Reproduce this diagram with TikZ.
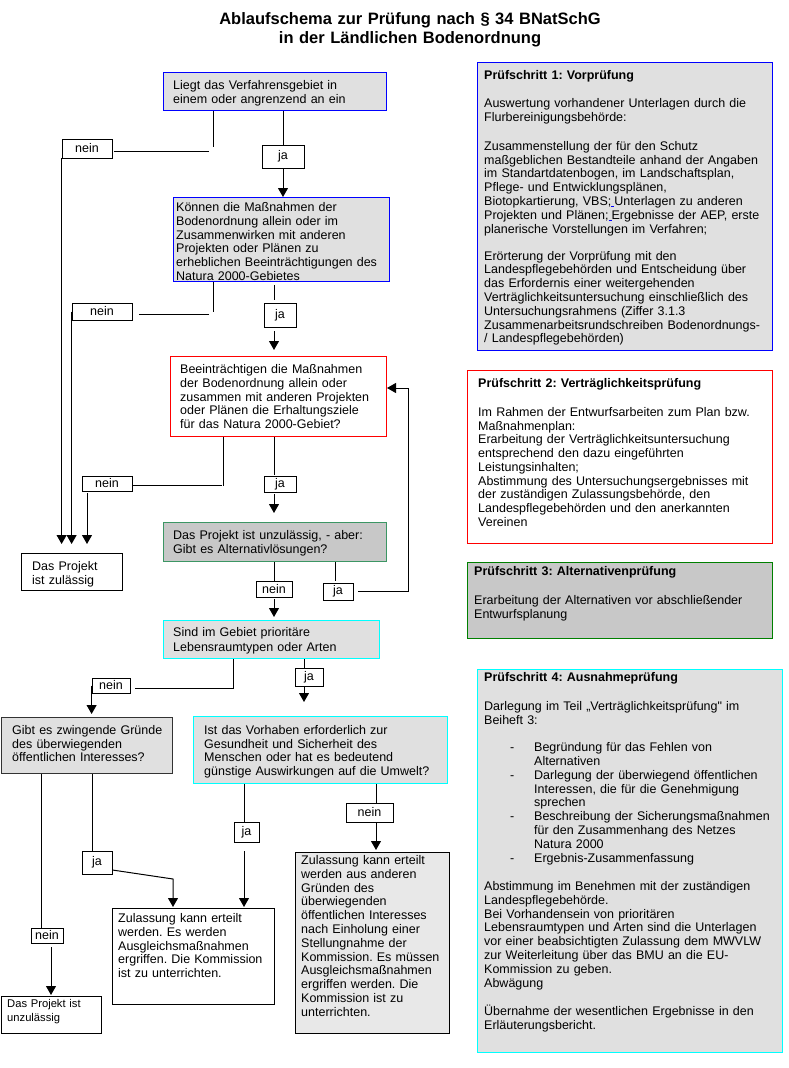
\documentclass[tikz,border=0pt]{standalone}
\usepackage{fontspec}
\setmainfont{Liberation Sans}
\usetikzlibrary{arrows.meta,calc}
\definecolor{boxgray}{RGB}{224,224,224}
\definecolor{midgray}{RGB}{200,200,200}
\definecolor{palegray}{RGB}{232,232,232}
\definecolor{bblue}{RGB}{0,0,255}
\definecolor{bred}{RGB}{255,0,0}
\definecolor{bcyan}{RGB}{0,255,255}
\definecolor{bgreen}{RGB}{60,150,100}
\definecolor{dgreen}{RGB}{0,128,0}
\newcommand\bluesp{\hbox{\color{blue}\rule[-1.5pt]{3pt}{0.6pt}}}
\newcommand\bulitem[1]{\makebox[50pt][l]{\hspace*{26pt}-}#1}
\newcommand\bulcont[1]{\hspace*{50pt}#1}
\frenchspacing
\begin{document}
\begin{tikzpicture}[x=1pt,y=-1pt,
  box/.style={draw,line width=1pt,anchor=north west,inner sep=0pt},
  lbl/.style={draw,line width=0.8pt,inner sep=0pt,font=\fontsize{12.5}{14}\selectfont},
  txt/.style={anchor=base west,inner sep=0pt,align=left,text width=300pt,font=\fontsize{12.5}{#1}\selectfont\frenchspacing},
  txt/.default=13.8,
  ln/.style={line width=1pt},
  arr/.style={line width=1pt,-{Triangle[width=10pt,length=9pt]}}
]
\useasboundingbox (0,0) rectangle (789,1068);

% title
\node[anchor=base,align=center,text width=500pt,inner sep=0pt,font=\fontsize{16.5}{19}\selectfont\bfseries] (title) at (410,24.3)
  {Ablaufschema zur Prüfung nach § 34 BNatSchG\\in der Ländlichen Bodenordnung};

% flow boxes
\node[box,fill=boxgray,draw=bblue,minimum width=223pt,minimum height=38pt] (A) at (163,72) {};
\node[txt=14] (At) at (173,89.5) {Liegt das Verfahrensgebiet in\\einem oder angrenzend an ein};

\node[box,fill=boxgray,draw=bblue,minimum width=216pt,minimum height=84pt] (B) at (173,197) {};
\node[txt] (Bt) at (176,211.5) {Können die Maßnahmen der\\Bodenordnung allein oder im\\Zusammenwirken mit anderen\\Projekten oder Plänen zu\\erheblichen Beeinträchtigungen des\\Natura 2000-Gebietes};

\node[box,fill=white,draw=bred,minimum width=216pt,minimum height=80pt] (C) at (170,356) {};
\node[txt] (Ct) at (180,373.5) {Beeinträchtigen die Maßnahmen\\der Bodenordnung allein oder\\zusammen mit anderen Projekten\\oder Plänen die Erhaltungsziele\\für das Natura 2000-Gebiet?};

\node[box,fill=midgray,draw=bgreen,minimum width=223pt,minimum height=39pt] (D) at (163,522) {};
\node[txt=14] (Dt) at (173,539.5) {Das Projekt ist unzulässig, - aber:\\Gibt es Alternativlösungen?};

\node[box,fill=white,draw=black,minimum width=101pt,minimum height=37pt] (E) at (21,553) {};
\node[txt=14] (Et) at (32,570.5) {Das Projekt\\ist zulässig};

\node[box,fill=boxgray,draw=bcyan,minimum width=216pt,minimum height=38pt] (F) at (163,620) {};
\node[txt=14.5] (Ft) at (173,636.5) {Sind im Gebiet prioritäre\\Lebensraumtypen oder Arten};

\node[box,fill=boxgray,draw=black!80,minimum width=171pt,minimum height=56pt] (G) at (1,717) {};
\node[txt=13.5] (Gt) at (12,734.5) {Gibt es zwingende Gründe\\des überwiegenden\\öffentlichen Interesses?};

\node[box,fill=boxgray,draw=bcyan,minimum width=254pt,minimum height=67pt] (H) at (193,716) {};
\node[txt=13.7] (Ht) at (204,734.5) {Ist das Vorhaben erforderlich zur\\Gesundheit und Sicherheit des\\Menschen oder hat es bedeutend\\günstige Auswirkungen auf die Umwelt?};

\node[box,fill=white,draw=black,minimum width=100.5pt,minimum height=37pt] (I) at (0.5,996) {};
\node[anchor=base west,inner sep=0pt,align=left,text width=100pt,font=\fontsize{11.2}{13.5}\selectfont] (It) at (7,1007.5) {Das Projekt ist\\unzulässig};

\node[box,fill=white,draw=black,minimum width=162pt,minimum height=96pt] (J) at (112,908) {};
\node[txt] (Jt) at (118,922.5) {Zulassung kann erteilt\\werden. Es werden\\Ausgleichsmaßnahmen\\ergriffen. Die Kommission\\ist zu unterrichten.};

\node[box,fill=palegray,draw=black,minimum width=154pt,minimum height=181pt] (K) at (295,852) {};
\node[txt] (Kt) at (301,864.5) {Zulassung kann erteilt\\werden aus anderen\\Gründen des\\überwiegenden\\öffentlichen Interesses\\nach Einholung einer\\Stellungnahme der\\Kommission. Es müssen\\Ausgleichsmaßnahmen\\ergriffen werden. Die\\Kommission ist zu\\unterrichten.};

% right column
\node[box,fill=boxgray,draw=bblue,minimum width=295pt,minimum height=288pt] (P1) at (477,62) {};
\node[txt] (P1t) at (484,79.5) {\textbf{Prüfschritt 1: Vorprüfung}\\[14.2pt]
Auswertung vorhandener Unterlagen durch die\\Flurbereinigungsbehörde:\\[15.2pt]
Zusammenstellung der für den Schutz\\maßgeblichen Bestandteile anhand der Angaben\\im Standartdatenbogen, im Landschaftsplan,\\Pflege- und Entwicklungsplänen,\\Biotopkartierung, VBS;\bluesp Unterlagen zu anderen\\Projekten und Plänen;\bluesp Ergebnisse der AEP, erste\\planerische Vorstellungen im Verfahren;\\[13.2pt]
Erörterung der Vorprüfung mit den\\Landespflegebehörden und Entscheidung über\\das Erfordernis einer weitergehenden\\Verträglichkeitsuntersuchung einschließlich des\\Untersuchungsrahmens (Ziffer 3.1.3\\Zusammenarbeitsrundschreiben Bodenordnungs-\\/ Landespflegebehörden)};

\node[box,fill=white,draw=bred,minimum width=305pt,minimum height=173pt] (P2) at (467,370) {};
\node[txt=13.75] (P2t) at (478,387.5) {\textbf{Prüfschritt 2: Verträglichkeitsprüfung}\\[15pt]
Im Rahmen der Entwurfsarbeiten zum Plan bzw.\\Maßnahmenplan:\\Erarbeitung der Verträglichkeitsuntersuchung\\entsprechend den dazu eingeführten\\Leistungsinhalten;\\Abstimmung des Untersuchungsergebnisses mit\\der zuständigen Zulassungsbehörde, den\\Landespflegebehörden und den anerkannten\\Vereinen};

\node[box,fill=midgray,draw=dgreen,minimum width=305pt,minimum height=76pt] (P3) at (467,562) {};
\node[txt] (P3t) at (474,575.5) {\textbf{Prüfschritt 3: Alternativenprüfung}\\[15.2pt]
Erarbeitung der Alternativen vor abschließender\\Entwurfsplanung};

\node[box,fill=boxgray,draw=bcyan,minimum width=305pt,minimum height=383pt] (P4) at (477,669) {};
\node[txt=13.85] (P4t) at (484,681.5) {\textbf{Prüfschritt 4: Ausnahmeprüfung}\\[15.2pt]
Darlegung im Teil „Verträglichkeitsprüfung\textquotedbl\ im\\Beiheft 3:\\[13.2pt]
\bulitem{Begründung für das Fehlen von}\\\bulcont{Alternativen}\\
\bulitem{Darlegung der überwiegend öffentlichen}\\\bulcont{Interessen, die für die Genehmigung}\\\bulcont{sprechen}\\
\bulitem{Beschreibung der Sicherungsmaßnahmen}\\\bulcont{für den Zusammenhang des Netzes}\\\bulcont{Natura 2000}\\
\bulitem{Ergebnis-Zusammenfassung}\\[14.2pt]
Abstimmung im Benehmen mit der zuständigen\\Landespflegebehörde.\\Bei Vorhandensein von prioritären\\Lebensraumtypen und Arten sind die Unterlagen\\vor einer beabsichtigten Zulassung dem MWVLW\\zur Weiterleitung über das BMU an die EU-\\Kommission zu geben.\\Abwägung\\[14.2pt]
Übernahme der wesentlichen Ergebnisse in den\\Erläuterungsbericht.};

% label boxes
\node[lbl,minimum width=50pt,minimum height=19pt] (N1) at (87,148.5) {nein};
\node[lbl,minimum width=42pt,minimum height=23pt] (J1) at (283,156.5) {ja};
\node[lbl,minimum width=60pt,minimum height=17pt] (N2) at (102,311.5) {nein};
\node[lbl,minimum width=32pt,minimum height=24pt] (J2) at (280,315) {ja};
\node[lbl,minimum width=50pt,minimum height=15pt] (N3) at (107,483.5) {nein};
\node[lbl,minimum width=32pt,minimum height=16pt] (J3) at (280,484) {ja};
\node[lbl,minimum width=36pt,minimum height=16pt] (N4) at (274,589) {nein};
\node[lbl,minimum width=30pt,minimum height=17pt] (J4) at (338,591.5) {ja};
\node[lbl,minimum width=38pt,minimum height=15pt] (N5) at (111,685.5) {nein};
\node[lbl,minimum width=28pt,minimum height=18pt] (J5) at (309,677) {ja};
\node[lbl,minimum width=32pt,minimum height=15pt] (N6) at (47,935.5) {nein};
\node[lbl,minimum width=30pt,minimum height=23pt] (J6) at (97,862.5) {ja};
\node[lbl,minimum width=25pt,minimum height=20pt] (J7) at (246.5,832) {ja};
\node[lbl,minimum width=47pt,minimum height=19pt] (N7) at (369.5,812.5) {nein};

% free-end coordinates
\coordinate (tipE) at (0,544);
\coordinate (a1) at (213,147);
\coordinate (a2) at (209,151);
\coordinate (b1) at (213,312);
\coordinate (b2) at (209,314);
\coordinate (b4) at (274,300);
\coordinate (b6) at (274,350);
\coordinate (c1) at (223,486);
\coordinate (c2) at (222,485);
\coordinate (c3) at (87,544);
\coordinate (c4) at (274,475);
\coordinate (c5) at (274,513);
\coordinate (d1) at (274,617);
\coordinate (d2) at (335,581);
\coordinate (d3) at (358,591);
\coordinate (d4) at (408,591);
\coordinate (d5) at (408,388);
\coordinate (f1) at (233,688);
\coordinate (f4) at (0,714);
\coordinate (f5) at (304,668);
\coordinate (f6) at (304,702);
\coordinate (g1) at (41,928);
\coordinate (g3) at (51,995);
\coordinate (g4) at (92,851);
\coordinate (g5) at (112,870);
\coordinate (g6) at (173,879);
\coordinate (g7) at (173,907);
\coordinate (h1) at (244,822);
\coordinate (h3) at (244,907);
\coordinate (h4) at (376,803);
\coordinate (h5) at (376,850);

% connectors from A
\draw[ln] (A.south -| a1) -- (a1);
\draw[ln] (a2) -- ($(N1.east |- a2)+(2,0)$);
\draw[arr] (N1.south west) -- (N1.south west |- tipE);
\draw[ln] (A.south -| J1) -- (J1.north);
\draw[arr] (J1.south) -- (B.north -| J1);
% from B
\draw[ln] (B.south -| b1) -- (b1);
\draw[ln] (b2) -- ($(N2.east |- b2)+(7,0)$);
\draw[arr] (N2.west) -- (N2.west |- tipE);
\draw[ln] ($(B.south -| b4)+(0,3)$) -- (b4);
\draw[arr] ($(J2.south -| b6)+(0,4)$) -- (b6);
% from C
\draw[ln] (C.south -| c1) -- (c1);
\draw[ln] (c2) -- (N3.east |- c2);
\draw[arr] ($(N3.south -| c3)+(0,2)$) -- (c3);
\draw[ln] (C.south -| c4) -- (c4);
\draw[arr] ($(J3.south -| c5)+(0,2)$) -- (c5);
% from D
\draw[ln] (D.south -| N4) -- (N4.north);
\draw[arr] ($(N4.south)+(0,2)$) -- (d1);
\draw[ln] (D.south -| d2) -- (d2);
\draw[arr] (d3) -- (d4) -- (d5) -- (C.east |- d5);
% from F
\draw[ln] (F.south -| f1) -- (f1) -- ($(N5.east |- f1)+(5,0)$);
\draw[arr] (N5.west) -- (N5.west |- f4);
\draw[ln] (F.south -| f5) -- (f5);
\draw[arr] (J5.south -| f5) -- (f6);
% from G
\draw[ln] (G.south -| g1) -- (g1);
\draw[arr] ($(N6.south -| g3)+(0,4)$) -- (g3);
\draw[ln] (G.south -| g4) -- (g4);
\draw[arr] (J6.east |- g5) -- (g6) -- (g7);
% from H
\draw[ln] (H.south -| h1) -- (h1);
\draw[arr] ($(J7.south -| h3)+(0,9)$) -- (h3);
\draw[ln] (H.south -| h4) -- (h4);
\draw[arr] (N7.south -| h4) -- (h5);
\end{tikzpicture}
\end{document}
